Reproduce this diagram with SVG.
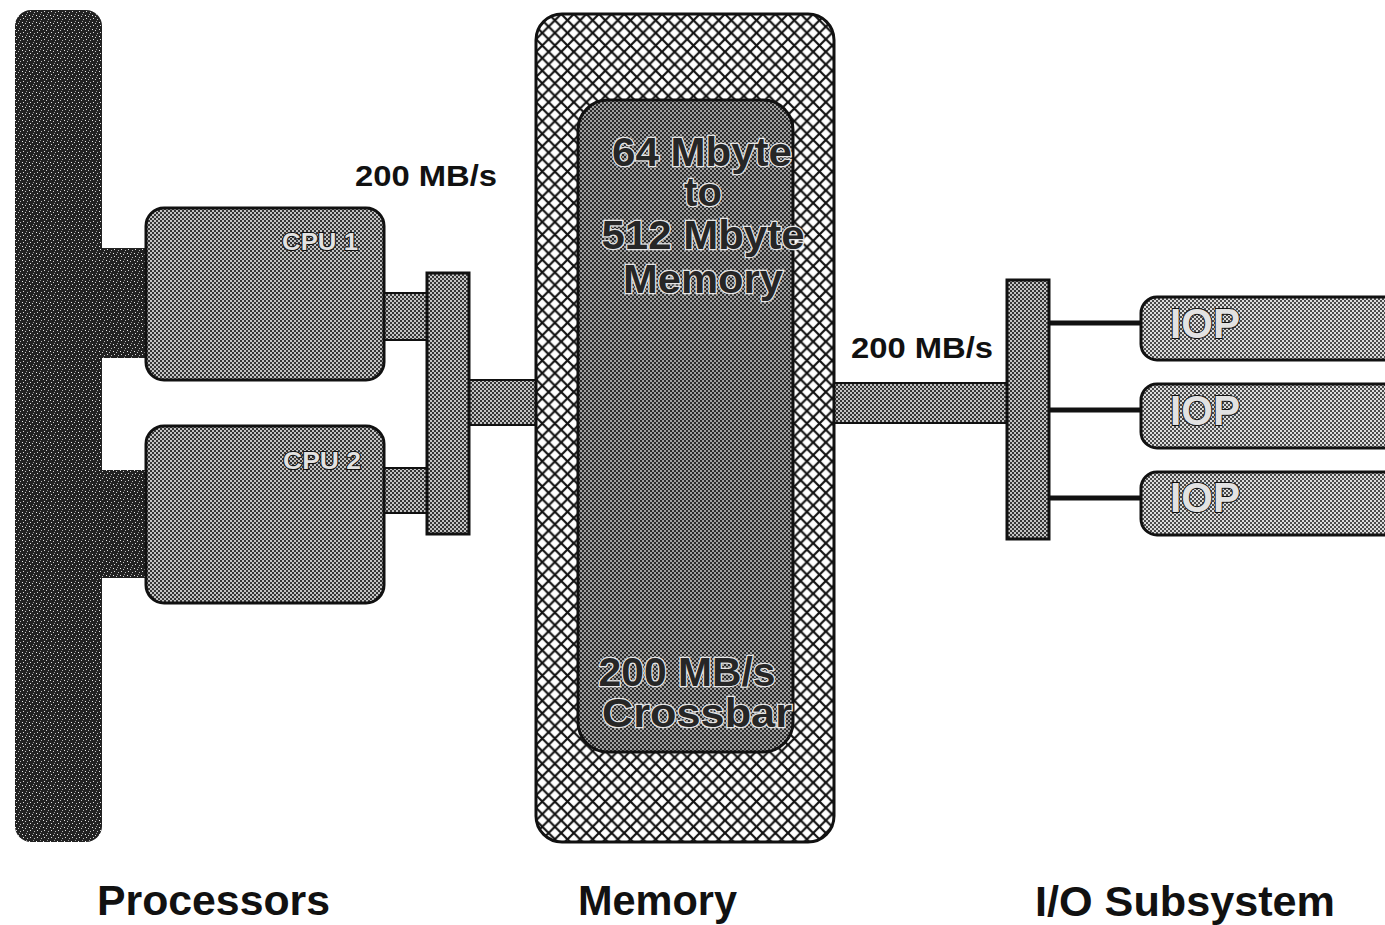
<svg xmlns="http://www.w3.org/2000/svg" width="1385" height="925" viewBox="0 0 1385 925">
  <defs>
    <!-- halftone screens -->
    <pattern id="ht-dark" patternUnits="userSpaceOnUse" width="7" height="7">
      <rect width="7" height="7" fill="#222"/>
      <rect x="1" y="1" width="1" height="1" fill="#eee"/>
      <rect x="4" y="2" width="1" height="1" fill="#ccc"/>
      <rect x="2" y="4" width="1" height="1" fill="#ddd"/>
      <rect x="6" y="5" width="1" height="1" fill="#bbb"/>
      <rect x="5" y="0" width="1" height="1" fill="#999"/>
    </pattern>
    <pattern id="ht-mid" patternUnits="userSpaceOnUse" width="4" height="4">
      <rect width="4" height="4" fill="#c4c4c4"/>
      <rect x="0" y="0" width="2" height="2" fill="#363636"/>
      <rect x="2" y="2" width="2" height="2" fill="#363636"/>
    </pattern>
    <pattern id="ht-deep" patternUnits="userSpaceOnUse" width="4" height="4">
      <rect width="4" height="4" fill="#a0a0a0"/>
      <rect x="0" y="0" width="2" height="2" fill="#2a2a2a"/>
      <rect x="2" y="2" width="2" height="2" fill="#2a2a2a"/>
    </pattern>
    <pattern id="ht-light" patternUnits="userSpaceOnUse" width="4" height="4">
      <rect width="4" height="4" fill="#dcdcdc"/>
      <rect x="0" y="0" width="2" height="2" fill="#4a4a4a"/>
      <rect x="2" y="2" width="2" height="2" fill="#4a4a4a"/>
    </pattern>
    <!-- diamond crosshatch for the memory housing -->
    <pattern id="hatch" patternUnits="userSpaceOnUse" width="12.6" height="12.6" x="536" y="14">
      <rect width="12.6" height="12.6" fill="#fff"/>
      <path d="M-1,-1 L13.6,13.6 M13.6,-1 L-1,13.6" stroke="#111" stroke-width="2.2"/>
    </pattern>
    <style>
      .edge { stroke: #111; stroke-width: 3; }
      .lbl { font-family: "Liberation Sans", Arial, sans-serif; font-weight: bold; fill: #111; }
      .mem { font-family: "Liberation Sans", Arial, sans-serif; font-weight: bold; font-size: 40px;
             fill: #262626; stroke: #e6e6e6; stroke-width: 2.5; paint-order: stroke; text-anchor: middle; }
      .tag { font-family: "Liberation Sans", Arial, sans-serif; font-weight: bold;
             fill: #e2e2e2; stroke: #111; stroke-width: 2; paint-order: stroke; }
      .wire { stroke: #111; stroke-width: 5; fill: none; }
    </style>
  </defs>

  <!-- links between the blocks -->
  <g id="connectors">
    <rect x="98" y="248" width="52" height="110" fill="url(#ht-dark)"/>
    <rect x="98" y="470" width="52" height="108" fill="url(#ht-dark)"/>
    <rect x="382" y="293" width="46" height="47" fill="url(#ht-mid)" stroke="#111" stroke-width="2"/>
    <rect x="382" y="468" width="46" height="45" fill="url(#ht-mid)" stroke="#111" stroke-width="2"/>
    <rect x="468" y="380" width="70" height="45" fill="url(#ht-mid)" stroke="#111" stroke-width="2"/>
    <rect x="833" y="383" width="176" height="40" fill="url(#ht-mid)" stroke="#111" stroke-width="2"/>
    <line class="wire" x1="1048" y1="323" x2="1144" y2="323"/>
    <line class="wire" x1="1048" y1="410" x2="1144" y2="410"/>
    <line class="wire" x1="1048" y1="498" x2="1144" y2="498"/>
  </g>

  <!-- processor backplane -->
  <g id="proc-bus">
    <rect x="15" y="10" width="87" height="832" rx="16" fill="url(#ht-dark)"/>
  </g>

  <g id="cpu1">
    <rect class="edge" x="146" y="208" width="238" height="172" rx="18" fill="url(#ht-mid)"/>
    <text class="tag" x="282" y="250" font-size="24" textLength="76" lengthAdjust="spacingAndGlyphs">CPU 1</text>
  </g>

  <g id="cpu2">
    <rect class="edge" x="146" y="426" width="238" height="177" rx="18" fill="url(#ht-mid)"/>
    <text class="tag" x="283" y="469" font-size="24" textLength="78" lengthAdjust="spacingAndGlyphs">CPU 2</text>
  </g>

  <g id="cpu-port">
    <rect class="edge" x="427" y="273" width="42" height="261" fill="url(#ht-mid)"/>
  </g>

  <g id="memory">
    <rect class="edge" x="536" y="14" width="298" height="828" rx="26" fill="url(#hatch)"/>
    <rect class="edge" x="578" y="100" width="215" height="652" rx="30" fill="url(#ht-deep)"/>
    <text class="mem" x="702" y="166" textLength="180" lengthAdjust="spacingAndGlyphs">64 Mbyte</text>
    <text class="mem" x="703" y="206">to</text>
    <text class="mem" x="703" y="249" textLength="203" lengthAdjust="spacingAndGlyphs">512 Mbyte</text>
    <text class="mem" x="703" y="293" textLength="160" lengthAdjust="spacingAndGlyphs">Memory</text>
    <text class="mem" x="687" y="686" font-size="36" textLength="177" lengthAdjust="spacingAndGlyphs">200 MB/s</text>
    <text class="mem" x="697" y="727" font-size="36" textLength="190" lengthAdjust="spacingAndGlyphs">Crossbar</text>
  </g>

  <g id="io-port">
    <rect class="edge" x="1007" y="280" width="42" height="259" fill="url(#ht-mid)"/>
  </g>

  <g id="iop1">
    <rect class="edge" x="1141" y="297" width="270" height="63" rx="16" fill="url(#ht-light)"/>
    <text class="tag" x="1170" y="338" font-size="42" textLength="70" lengthAdjust="spacingAndGlyphs">IOP</text>
  </g>
  <g id="iop2">
    <rect class="edge" x="1141" y="384" width="270" height="64" rx="16" fill="url(#ht-light)"/>
    <text class="tag" x="1170" y="425" font-size="42" textLength="70" lengthAdjust="spacingAndGlyphs">IOP</text>
  </g>
  <g id="iop3">
    <rect class="edge" x="1141" y="472" width="270" height="63" rx="16" fill="url(#ht-light)"/>
    <text class="tag" x="1170" y="512" font-size="42" textLength="70" lengthAdjust="spacingAndGlyphs">IOP</text>
  </g>

  <!-- rate and section captions -->
  <g id="captions">
    <text class="lbl" x="355" y="186" font-size="30" textLength="142" lengthAdjust="spacingAndGlyphs">200 MB/s</text>
    <text class="lbl" x="851" y="358" font-size="30" textLength="142" lengthAdjust="spacingAndGlyphs">200 MB/s</text>
    <text class="lbl" x="97" y="915" font-size="42" textLength="233" lengthAdjust="spacingAndGlyphs">Processors</text>
    <text class="lbl" x="578" y="915" font-size="42" textLength="159" lengthAdjust="spacingAndGlyphs">Memory</text>
    <text class="lbl" x="1035" y="916" font-size="42" textLength="300" lengthAdjust="spacingAndGlyphs">I/O Subsystem</text>
  </g>
</svg>
